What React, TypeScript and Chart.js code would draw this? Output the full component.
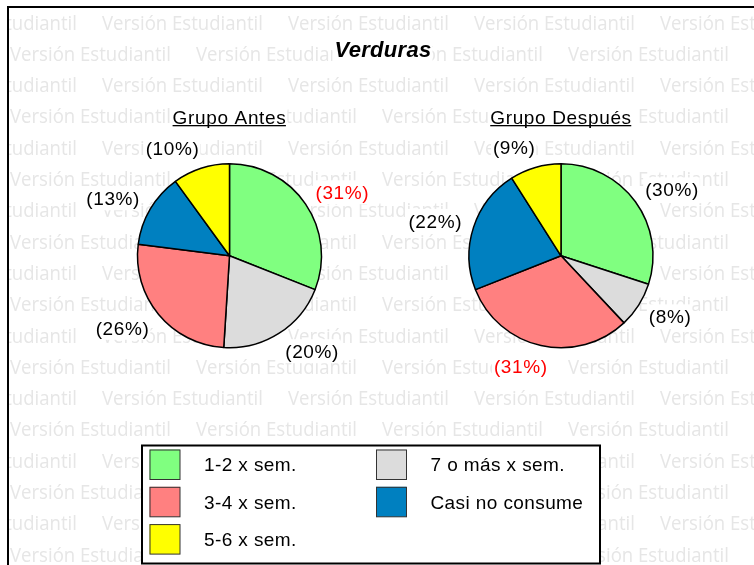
import React, { useEffect, useRef } from "react";
import { Chart, registerables } from "chart.js";

Chart.register(...registerables);

const W = 754;
const H = 565;

const CATEGORIES = ["1-2 x sem.", "7 o más x sem.", "3-4 x sem.", "Casi no consume", "5-6 x sem."];
const GRUPO_ANTES = [31, 20, 26, 13, 10];
const GRUPO_DESPUES = [30, 8, 31, 22, 9];
const COLORS = ["#80FF80", "#DCDCDC", "#FF8080", "#0080C0", "#FFFF00"];
const TITLE = "Verduras";
const SUBTITLE_ANTES = "Grupo Antes";
const SUBTITLE_DESPUES = "Grupo Después";
const WATERMARK = "Versión Estudiantil";

const FONT = "'Liberation Sans', Arial, sans-serif";
const PIE_R = 92;
const PIE_CY = 255.8;
const PIE1_CX = 229.5;
const PIE2_CX = 561;

function padFor(cx: number, cy: number) {
  return { left: cx - 100, top: cy - 100, right: W - (cx + 100), bottom: H - (cy + 100) };
}

function drawBackground(chart: any) {
  const ctx = chart.ctx as CanvasRenderingContext2D;
  ctx.save();
  ctx.fillStyle = "#ffffff";
  ctx.fillRect(0, 0, W, H);
  ctx.beginPath();
  ctx.rect(8, 8, W - 8, H - 8);
  ctx.clip();
  ctx.fillStyle = "#e6e6e6";
  ctx.font = "20px 'Open Sans', sans-serif";
  ctx.textBaseline = "alphabetic";
  ctx.textAlign = "left";
  const tw = ctx.measureText(WATERMARK).width;
  const sx = 161 / tw;
  const period = 186;
  for (let r = 0; r < 19; r++) {
    const y = 29.5 + r * 31.3;
    const x0 = r % 2 === 0 ? 102 - period : 10;
    for (let x = x0; x < W; x += period) {
      ctx.save();
      ctx.translate(x, y);
      ctx.scale(sx, 1);
      ctx.fillText(WATERMARK, 0, 0);
      ctx.restore();
    }
  }
  ctx.restore();
  ctx.save();
  ctx.strokeStyle = "#000";
  ctx.lineWidth = 2;
  ctx.strokeRect(8, 7, W + 10, H + 10);
  ctx.restore();
}

function boxedText(ctx: CanvasRenderingContext2D, text: string, cx: number, cy: number, color: string, capH: number) {
  const w = ctx.measureText(text).width;
  ctx.fillStyle = "#ffffff";
  ctx.fillRect(cx - w / 2 - 2, cy - 12, w + 3, 24);
  ctx.fillStyle = color;
  ctx.fillText(text, cx, cy + capH / 2);
  return w;
}

function drawLabels(chart: any) {
  const ctx = chart.ctx as CanvasRenderingContext2D;
  const meta = chart.getDatasetMeta(0);
  const data = chart.data.datasets[0].data as number[];
  const max = Math.max(...data);
  ctx.save();
  ctx.font = `19px ${FONT}`;
  (ctx as any).letterSpacing = "0.6px";
  ctx.textAlign = "center";
  ctx.textBaseline = "alphabetic";
  meta.data.forEach((arc: any, i: number) => {
    const p = arc.getProps(["x", "y", "startAngle", "endAngle", "outerRadius"], true);
    const mid = (p.startAngle + p.endAngle) / 2;
    const ux = Math.cos(mid);
    const uy = Math.sin(mid);
    const text = `(${data[i]}%)`;
    const w = ctx.measureText(text).width;
    const h = 18;
    const r = p.outerRadius + 12;
    const kx = Math.max(-1, Math.min(1, ux * 3));
    const cx = p.x + ux * r + kx * w / 2;
    const cy = p.y + uy * r + uy * h / 2;
    boxedText(ctx, text, cx, cy, data[i] === max ? "#FF0000" : "#000000", 13.6);
  });
  ctx.restore();
}

function drawSubtitle(chart: any, text: string) {
  const ctx = chart.ctx as CanvasRenderingContext2D;
  const meta = chart.getDatasetMeta(0);
  const cx = meta.data[0].x;
  ctx.save();
  ctx.font = `19px ${FONT}`;
  (ctx as any).letterSpacing = "0.65px";
  ctx.textAlign = "center";
  const w = boxedText(ctx, text, cx, 117.6, "#000", 13.6);
  ctx.fillStyle = "#000";
  ctx.fillRect(cx - w / 2, 125, w - 0.5, 1.3);
  ctx.restore();
}

function drawTitleAndLegend(chart: any) {
  const ctx = chart.ctx as CanvasRenderingContext2D;
  ctx.save();
  ctx.font = `italic bold 22px ${FONT}`;
  (ctx as any).letterSpacing = "0.3px";
  ctx.textAlign = "center";
  ctx.textBaseline = "alphabetic";
  boxedText(ctx, TITLE, 383, 49, "#000", 15.5);
  ctx.restore();

  // legend
  ctx.save();
  ctx.fillStyle = "#fff";
  ctx.fillRect(142, 445.5, 458, 118);
  ctx.strokeStyle = "#000";
  ctx.lineWidth = 2;
  ctx.strokeRect(142, 445.5, 458, 118);
  ctx.font = `19px ${FONT}`;
  (ctx as any).letterSpacing = "0.4px";
  ctx.textAlign = "left";
  ctx.textBaseline = "alphabetic";
  const colX = [149.5, 376];
  const textX = [204, 430.5];
  CATEGORIES.forEach((label, i) => {
    const col = i % 2;
    const row = Math.floor(i / 2);
    const y = 449.5 + row * 37.3;
    ctx.fillStyle = COLORS[i];
    ctx.fillRect(colX[col], y, 30.5, 30);
    ctx.strokeStyle = "#333";
    ctx.lineWidth = 1;
    ctx.strokeRect(colX[col] + 0.5, y + 0.5, 30, 29.5);
    ctx.fillStyle = "#000";
    ctx.fillText(label, textX[col], y + 15 + 6.8);
  });
  ctx.restore();
}

export default function App() {
  const ref1 = useRef<HTMLCanvasElement>(null);
  const ref2 = useRef<HTMLCanvasElement>(null);

  useEffect(() => {
    const common = {
      responsive: false,
      maintainAspectRatio: false,
      animation: false as const,
      radius: PIE_R,
      events: [] as any[],
      plugins: { legend: { display: false }, tooltip: { enabled: false }, title: { display: false } },
    };
    const c1 = new Chart(ref1.current!, {
      type: "pie",
      data: {
        labels: CATEGORIES,
        datasets: [{ data: GRUPO_ANTES, backgroundColor: COLORS, borderColor: "#000", borderWidth: 1.5 }],
      },
      options: { ...common, layout: { padding: padFor(PIE1_CX, PIE_CY) } } as any,
      plugins: [
        {
          id: "bg1",
          beforeDraw: (chart: any) => drawBackground(chart),
          afterDraw: (chart: any) => {
            drawLabels(chart);
            drawSubtitle(chart, SUBTITLE_ANTES);
            drawTitleAndLegend(chart);
          },
        },
      ],
    });
    const c2 = new Chart(ref2.current!, {
      type: "pie",
      data: {
        labels: CATEGORIES,
        datasets: [{ data: GRUPO_DESPUES, backgroundColor: COLORS, borderColor: "#000", borderWidth: 1.5 }],
      },
      options: { ...common, layout: { padding: padFor(PIE2_CX, PIE_CY) } } as any,
      plugins: [
        {
          id: "lbl2",
          afterDraw: (chart: any) => {
            drawLabels(chart);
            drawSubtitle(chart, SUBTITLE_DESPUES);
          },
        },
      ],
    });
    return () => {
      c1.destroy();
      c2.destroy();
    };
  }, []);

  const cs: React.CSSProperties = { position: "absolute", left: 0, top: 0, width: W, height: H, display: "block" };
  return (
    <div style={{ position: "absolute", left: 0, top: 0, width: W, height: H, overflow: "hidden", background: "#fff" }}>
      <canvas ref={ref1} width={W} height={H} style={cs} />
      <canvas ref={ref2} width={W} height={H} style={cs} />
    </div>
  );
}
